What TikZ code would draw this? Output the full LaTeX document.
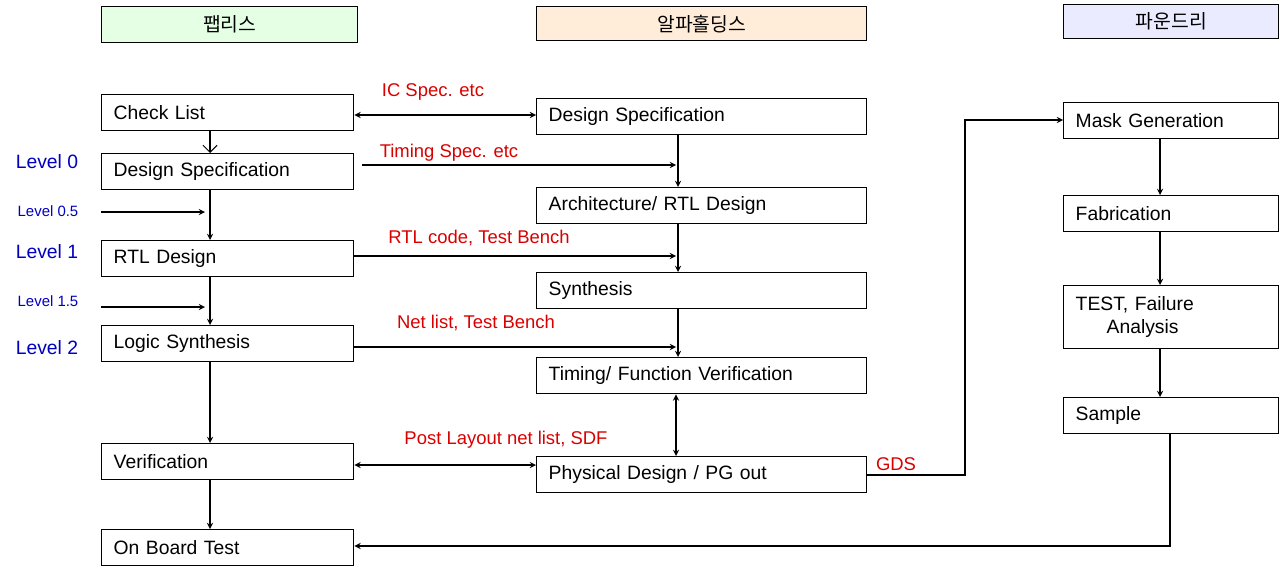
\documentclass[tikz,border=0pt]{standalone}
\usepackage{fontspec}
\setmainfont{Liberation Sans}
\newfontfamily\kor{Noto Sans CJK KR}
\usetikzlibrary{positioning,arrows.meta}
\tikzset{
  stagebox/.style={draw, line width=0.8pt, anchor=north west, align=left,
    font=\fontsize{11}{13}\selectfont, inner xsep=0.24cm, inner ysep=0pt},
  headbox/.style={draw, line width=0.8pt, anchor=north west, font=\kor\fontsize{11}{13}\selectfont, inner sep=0pt},
  redlbl/.style={text=red!85!black, font=\fontsize{10.5}{13}\selectfont, inner sep=0pt},
  lvl/.style={text=blue!75!black, font=\fontsize{11}{13}\selectfont, inner sep=0pt},
  lvls/.style={text=blue!75!black, font=\fontsize{8.5}{10}\selectfont, inner sep=0pt},
  flow/.style={-stealth, line width=0.6pt},
  both/.style={stealth-stealth, line width=0.6pt}
}
\begin{document}
\begin{tikzpicture}[x=0.02cm,y=-0.02cm]
  \useasboundingbox (0,0) rectangle (1280,571);
  % headers
  \node[headbox, fill=green!10, minimum width=256*0.02cm, minimum height=36*0.02cm] (hfab) at (101,6) {팹리스};
  \node[headbox, fill=orange!15, minimum width=330*0.02cm, minimum height=34*0.02cm] (hhold) at (536,6) {알파홀딩스};
  \node[headbox, fill=blue!8, minimum width=215*0.02cm, minimum height=34*0.02cm] (hfound) at (1063,4) {파운드리};

  % left column
  \foreach \nm/\y/\txt in {chk/94/Check List, lds/153/Design Specification, lrtl/240/RTL Design,
      lsyn/325/Logic Synthesis, ver/443/Verification, obt/529/On Board Test}
    \node[stagebox, minimum width=252*0.02cm, minimum height=36*0.02cm, text width=228*0.02cm] (\nm) at (101,\y) {\txt};
  % middle column
  \foreach \nm/\y/\txt in {mds/98/{Design Specification}, arch/187/{Architecture/ RTL Design}, msyn/272/{Synthesis},
      tim/357/{Timing/ Function Verification}, pd/456/{Physical Design / PG out}}
    \node[stagebox, minimum width=330*0.02cm, minimum height=36*0.02cm, text width=306*0.02cm] (\nm) at (536,\y) {\txt};
  % right column
  \foreach \nm/\y/\txt in {mask/102/Mask Generation, fabr/195/Fabrication, smp/397/Sample}
    \node[stagebox, minimum width=215*0.02cm, minimum height=36*0.02cm, text width=191*0.02cm] (\nm) at (1063,\y) {\txt};
  \node[stagebox, minimum width=215*0.02cm, minimum height=63*0.02cm, text width=191*0.02cm] (tst) at (1063,285) {TEST, Failure\\\hspace*{1.6em}Analysis};

  % levels
  \node[lvl] (l0) at (47,162) {Level 0};
  \node[lvls] (l05) at (48,211) {Level 0.5};
  \node[lvl] (l1) at (47,252) {Level 1};
  \node[lvls] (l15) at (48,301) {Level 1.5};
  \node[lvl] (l2) at (47,348) {Level 2};
  \coordinate (a05) at (101,212);
  \coordinate (a15) at (101,307);

  % left flow
  \draw[-{Straight Barb[length=4pt]}, line width=0.6pt] (chk.south -| 210,0) -- (lds.north -| 210,0);
  \draw[flow] (lds.south -| 210,0) -- (lrtl.north -| 210,0);
  \draw[flow] (lrtl.south -| 210,0) -- (lsyn.north -| 210,0);
  \draw[flow] (lsyn.south -| 210,0) -- (ver.north -| 210,0);
  \draw[flow] (ver.south -| 210,0) -- (obt.north -| 210,0);
  \draw[flow] (a05) -- (205,212);
  \draw[flow] (a15) -- (205,307);

  % middle flow
  \draw[flow] (mds.south -| 678,0) -- (arch.north -| 678,0);
  \draw[flow] (arch.south -| 678,0) -- (msyn.north -| 678,0);
  \draw[flow] (msyn.south -| 678,0) -- (tim.north -| 678,0);
  \draw[both] (tim.south -| 676,0) -- (pd.north -| 676,0);

  % cross links
  \draw[both] (chk.east |- 0,115) -- (mds.west |- 0,115);
  \node[redlbl] (icspec) at (433,92) {IC Spec. etc};
  \draw[flow] (362,165) -- (676,165);
  \node[redlbl] (tspec) at (449,153) {Timing Spec. etc};
  \draw[flow] (lrtl.east |- 0,256) -- (676,256);
  \node[redlbl] (rtlc) at (479,238) {RTL code, Test Bench};
  \draw[flow] (lsyn.east |- 0,347) -- (676,347);
  \node[redlbl] (netl) at (476,323) {Net list, Test Bench};
  \draw[both] (ver.east |- 0,465) -- (pd.west |- 0,465);
  \node[redlbl] (postl) at (506,440) {Post Layout net list, SDF};

  % to foundry and back
  \draw[flow] (pd.east |- 0,475) -- (965,475) -- (965,120) -- (mask.west |- 0,120);
  \node[redlbl] (gds) at (896,464) {GDS};
  \draw[flow] (mask.south -| 1160,0) -- (fabr.north -| 1160,0);
  \draw[flow] (fabr.south -| 1160,0) -- (tst.north -| 1160,0);
  \draw[flow] (tst.south -| 1160,0) -- (smp.north -| 1160,0);
  \draw[flow] (smp.south -| 1170,0) -- (1170,546) -- (obt.east |- 0,546);
\end{tikzpicture}
\end{document}
